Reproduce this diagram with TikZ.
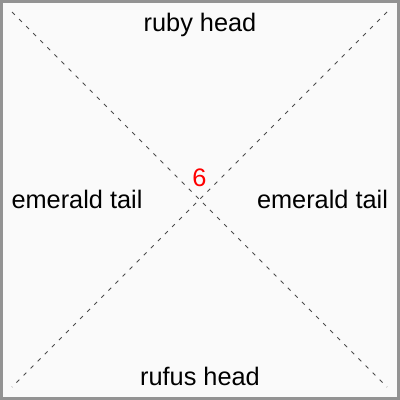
\documentclass[tikz,border=0pt]{standalone}
\usepackage{fontspec}
\setmainfont{Liberation Sans}
\usepackage{tikz}
\usetikzlibrary{calc,positioning}
\tikzset{
    frame/.style = {draw=gray!85, line width=2pt, fill=black!2},
    diag/.style = {draw=black!70, line width=0.6pt, dash pattern=on 3pt off 4.5pt},
    lbl/.style = {inner sep=0pt, anchor=base, font=\fontsize{19pt}{23pt}\selectfont},
    num/.style = {lbl, text=red}
}

\begin{document}
\begin{tikzpicture}[x=0.75pt,y=-0.75pt]
            \useasboundingbox (0,0) rectangle (400,400);
            \draw[frame] (1.2,1.2) rectangle (398.7,398.7);
            % Corners of the cross
            \coordinate (nw) at (12,12);
            \coordinate (ne) at (387,12);
            \coordinate (sw) at (12,387);
            \coordinate (se) at (387,387);
            % Draw the diagonals
            \path[diag] (nw) edge (se);
            \path[diag] (ne) edge (sw);
            % Label the four sides
            \node[lbl] (top) at (200,31.7) {ruby head};
            \node[lbl] (bottom) at (200,385) {rufus head};
            \node[lbl] (left) at (77,208) {emerald tail};
            \node[lbl] (right) at (322.5,208) {emerald tail};
            % The number at the middle
            \node[num] (count) at (199.5,186.7) {6};
\end{tikzpicture}
\end{document}
